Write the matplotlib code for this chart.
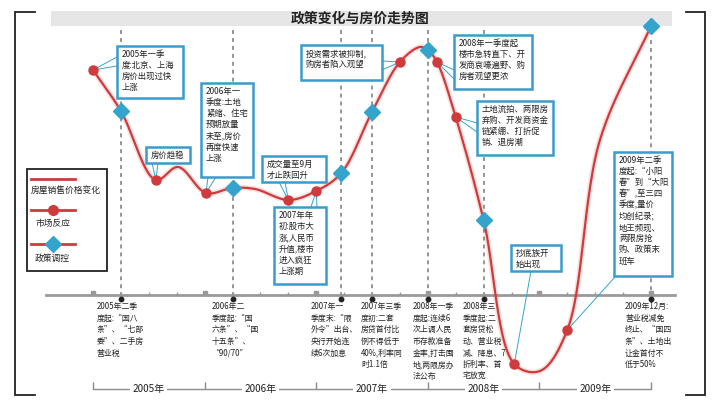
import numpy as np
import matplotlib.pyplot as plt
from matplotlib.patches import Rectangle

plt.rcParams['font.family'] = ['Noto Sans CJK SC', 'DejaVu Sans']

# x: quarters counted from the start of 2005, y: relative house price level
market_q = [0, 2.25, 4.05, 7.0, 8.0, 11.0, 12.33, 13.0, 15.1, 17.0]
market_v = [225, 115, 102, 95, 104, 233, 233, 178, -69, -35]
policy_q = [1, 5, 8.9, 10, 12, 14, 20]
policy_v = [184, 107, 122, 183, 245, 75, 269]
# extra bends of the price line between the marked points
bend_q = [3.05, 5.81, 11.72, 16.02, 18.17]
bend_v = [128, 106, 248, -76, 155]

years = ['2005年', '2006年', '2007年', '2008年', '2009年']

market_notes = [
    '2005年一季\n度:北京、上海\n房价出现过快\n上涨',
    '房价趋稳',
    '2006年一\n季度:土地\n紧缩、住宅\n预期放量\n未至,房价\n再度快速\n上涨',
    '成交量至9月\n才止跌回升',
    '2007年年\n初:股市大\n涨,人民币\n升值,楼市\n进入疯狂\n上涨期',
    '投资需求被抑制,\n购房者陷入观望',
    '2008年一季度起\n楼市急转直下、开\n发商哀嚎遍野、购\n房者观望更浓',
    '土地流拍、两限房\n弃购、开发商资金\n链紧绷、打折促\n销、退房潮',
    '抄底族开\n始出现',
    '2009年二季\n度起:“小阳\n春”到“大阳\n春”,至三四\n季度,量价\n均创纪录;\n地王频现、\n两限房抢\n购、政策末\n班车',
]
policy_notes = [
    '2005年二季\n度起:“国八\n条”、“七部\n委”、二手房\n营业税',
    '2006年二\n季度起:“国\n六条”、“国\n十五条”、\n“90/70”',
    '2007年一\n季度末:“限\n外令”出台、\n央行开始连\n续6次加息',
    '2007年三季\n度初:二套\n房贷首付比\n例不得低于\n40%,利率同\n时1.1倍',
    '2008年一季\n度起:连续6\n次上调人民\n币存款准备\n金率,打击囤\n地,两限房办\n法公布',
    '2008年三\n季度起:二\n套房贷松\n动、营业税\n减、降息、7\n折利率、首\n宅放宽',
    '2009年12月:\n营业税减免\n终止、“国四\n条”、土地出\n让金首付不\n低于50%',
]

RED = '#cf3a3c'
BLUE = '#35a4cc'
BOX = '#3a9ccc'
GREY = '#8c8c8c'

X0, QW, Y0 = 93, 27.9, 295


def P(x, y):
    # pixel position in the 712x409 picture -> data coords
    return (x - X0) / QW, Y0 - y


def smooth(xs, ys, n=30):
    p = np.column_stack([np.asarray(xs) * QW, ys])
    p = np.vstack([2 * p[0] - p[1], p, 2 * p[-1] - p[-2]])
    out = []
    for i in range(1, len(p) - 2):
        p0, p1, p2, p3 = p[i - 1:i + 3]
        t0 = 0
        t1 = t0 + np.linalg.norm(p1 - p0) ** 0.5
        t2 = t1 + np.linalg.norm(p2 - p1) ** 0.5
        t3 = t2 + np.linalg.norm(p3 - p2) ** 0.5
        t = np.linspace(t1, t2, n)[:, None]
        a1 = (t1 - t) / (t1 - t0) * p0 + (t - t0) / (t1 - t0) * p1
        a2 = (t2 - t) / (t2 - t1) * p1 + (t - t1) / (t2 - t1) * p2
        a3 = (t3 - t) / (t3 - t2) * p2 + (t - t2) / (t3 - t2) * p3
        b1 = (t2 - t) / (t2 - t0) * a1 + (t - t0) / (t2 - t0) * a2
        b2 = (t3 - t) / (t3 - t1) * a2 + (t - t1) / (t3 - t1) * a3
        out.append((t2 - t) / (t2 - t1) * b1 + (t - t1) / (t2 - t1) * b2)
    c = np.vstack(out)
    return c[:, 0] / QW, c[:, 1]


fig = plt.figure(figsize=(7.12, 4.09), dpi=100)
ax = fig.add_axes([0, 0, 1, 1])
ax.set_xlim(P(0, 0)[0], P(712, 0)[0])
ax.set_ylim(P(0, 409)[1], P(0, 0)[1])
ax.axis('off')

# outer brackets
for xs, ys in [([35, 15, 15, 35], [12, 12, 395, 395]),
               ([686, 705, 705, 686], [12, 12, 395, 395])]:
    pts = [P(x, y) for x, y in zip(xs, ys)]
    ax.plot([a for a, b in pts], [b for a, b in pts], color='#222222', lw=1.3,
            solid_joinstyle='miter')

# title band
bx, by = P(51, 26)
ax.add_patch(Rectangle((bx, by), (672 - 51) / QW, 15, color='#e6e6e6', lw=0, zorder=0))
ax.text(*P(360, 18.5), '政策变化与房价走势图', ha='center', va='center',
        fontsize=10, fontweight='bold', color='#222222')

# dashed guides at each policy
for q in policy_q:
    top = 40 if q == 20 else 30
    ax.plot([q, q], [P(0, top)[1], 0], color=GREY, lw=1.3, ls=(0, (2.2, 2.2)), zorder=1)

# timeline
ax.plot([P(46, 0)[0], P(675, 0)[0]], [0, 0], color='#999999', lw=2, zorder=2)
quarters = np.arange(0, 21)
ax.vlines(quarters[quarters % 4 != 0], 0, 3.5, color='#999999', lw=1, zorder=2)
ax.plot(quarters[::4], [2.5] * 6, 's', color='#999999', ms=3.5, zorder=2)
ax.plot(policy_q, [-4] * len(policy_q), 'o', color='#222222', ms=3.2, zorder=3)

# policy notes below the timeline
note_dx = [24, 21, 31, 11, 15, 21, 26]
for q, dx, txt in zip(policy_q, note_dx, policy_notes):
    ax.text(q - dx / QW, P(0, 302)[1], txt, ha='left', va='top', fontsize=5.7,
            color='#222222', linespacing=1.38)

# year brackets
yb = P(0, 389)[1]
ax.plot([0, 20], [yb, yb], color=GREY, lw=1, zorder=1)
ax.vlines(np.arange(0, 21, 4), yb, yb + 7, color=GREY, lw=1, zorder=1)
for i, y in enumerate(years):
    ax.text(4 * i + 2, yb, y, ha='center', va='center', fontsize=7.2, color='#222222',
            bbox=dict(boxstyle='square,pad=0.25', fc='white', ec='none'), zorder=2)

# price line
cq, cv = zip(*sorted(zip(market_q + policy_q + bend_q, market_v + policy_v + bend_v)))
sx, sy = smooth(cq, cv)
ax.plot(sx, sy, color=RED, lw=4, alpha=0.15, zorder=3, solid_capstyle='round')
ax.plot(sx, sy, color=RED, lw=1.6, zorder=3)
ax.plot(market_q, market_v, 'o', color=RED, ms=6.5, zorder=5)
ax.plot(policy_q, policy_v, 'D', color=BLUE, ms=8, zorder=5)

# callout boxes for the market reactions: box (x0, y0, x1, y1) and pointer roots
box_layout = [
    ((117, 46, 183, 98), [(117, 57), (117, 66)]),
    ((146, 147, 190, 163), [(152, 163), (158, 163)]),
    ((201, 83, 253, 177), [(208, 177), (216, 177)]),
    ((262, 156, 326, 182), [(279, 182), (285, 182)]),
    ((274, 207, 326, 284), [(311, 207), (317, 207)]),
    ((301, 45, 382, 80), [(382, 61), (382, 70)]),
    ((454, 35, 532, 89), [(454, 70), (454, 79)]),
    ((477, 101, 553, 155), [(477, 123), (477, 132)]),
    ((511, 245, 561, 271), [(531, 271)]),
    ((614, 152, 672, 276), [(615, 277)]),
]
for (q, v), ((x0, y0, x1, y1), roots), txt in zip(zip(market_q, market_v), box_layout, market_notes):
    for rx, ry in roots:
        r = P(rx, ry)
        ax.plot([r[0], q], [r[1], v], color=BLUE, lw=0.7, zorder=4)
    lx, ly = P(x0, y1)
    ax.add_patch(Rectangle((lx, ly), (x1 - x0) / QW, y1 - y0, fc='white', ec=BOX,
                           lw=1.8, zorder=6))
    ax.text(*P(x0 + 5, y0 + 4), txt, ha='left', va='top', fontsize=6,
            color='#222222', linespacing=1.3, zorder=7)

# legend
lx, ly = P(27, 271)
ax.add_patch(Rectangle((lx, ly), 80 / QW, 102, fc='white', ec='#222222', lw=1.3, zorder=6))
for y_line, y_txt, mk, col, label in [(179, 190, None, None, '房屋销售价格变化'),
                                      (210, 223, 'o', RED, '市场反应'),
                                      (244, 258, 'D', BLUE, '政策调控')]:
    a, b = P(31, y_line)
    c, _ = P(75, y_line)
    ax.plot([a, c], [b, b], color=RED, lw=2, zorder=7)
    if mk:
        ax.plot([(a + c) / 2], [b], mk, color=col, ms=7 if mk == 'o' else 8, zorder=8)
    ax.text(*P(31 if mk is None else 35, y_txt), label, ha='left', va='center',
            fontsize=6.3, color='#222222', zorder=8)

fig.savefig('out.png', dpi=100)
